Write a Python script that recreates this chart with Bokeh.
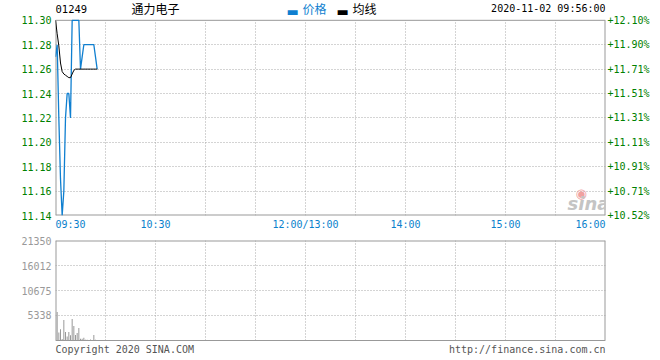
from bokeh.plotting import figure
from bokeh.models import Range1d, FixedTicker, LinearAxis, Label
from bokeh.layouts import column
from bokeh.embed import file_html
from bokeh.resources import INLINE

# ---------------- data ----------------
stock_code = "01249"
stock_name = "通力电子"
timestamp = "2020-11-02 09:56:00"
legend_price = "价格"
legend_avg = "均线"
prev_close = 10.08

# trading minutes since 09:30 (lunch break removed)
minutes = list(range(26))
price = [11.27, 11.28, 11.22, 11.17, 11.14, 11.16, 11.22, 11.24, 11.24, 11.22,
         11.30, 11.30, 11.30, 11.30, 11.30, 11.26, 11.27, 11.28, 11.28, 11.28,
         11.28, 11.28, 11.28, 11.28, 11.27, 11.26]
avg_price = [11.300, 11.289, 11.279, 11.265, 11.258, 11.256, 11.255, 11.254, 11.253, 11.253,
             11.256, 11.259, 11.260, 11.260, 11.260, 11.260, 11.260, 11.260, 11.260, 11.260,
             11.260, 11.260, 11.260, 11.260, 11.260, 11.260]

vol_minutes = list(range(1, 25))
volume = [6100, 1700, 2400, 300, 4400, 1800, 850, 1800, 1100, 4600,
          3100, 1200, 1600, 2650, 400, 400, 600, 150, 150, 0,
          200, 0, 1200, 150]

price_ticks = [11.14, 11.16, 11.18, 11.20, 11.22, 11.24, 11.26, 11.28, 11.30]
time_ticks = [0, 60, 150, 210, 270, 330]
time_labels = ["09:30", "10:30", "12:00/13:00", "14:00", "15:00", "16:00"]
grid_minutes = [30, 60, 90, 120, 150, 180, 210, 240, 270, 300]
vol_ticks = [5338, 10675, 16012, 21350]
vol_labels = ["5338", "10675", "16012", "21350"]
copyright_text = "Copyright 2020 SINA.COM"
url_text = "http://finance.sina.com.cn"

# ---------------- style ----------------
MONO = "DejaVu Sans Mono"
CJK = "Noto Sans CJK SC"
GREEN = "#008000"
BLUE = "#0f7fd0"
TBLUE = "#0a7fcc"
GRAY = "#999999"
GRID = "#a8a8a8"

X_MIN, X_MAX = 0, 330
Y_MIN, Y_MAX = 11.14, 11.30
V_MAX = 21350
PRICE_PX = 197.0     # price panel height in px
VOL_PX = 100.0       # volume panel height in px

# page geometry helpers (frame: x 55..605, price y 20..217, volume y 240..340)
def xm(px):
    return X_MIN + (px - 55) * (X_MAX - X_MIN) / 550.0

def yp(py):
    return Y_MAX - (py - 20) * (Y_MAX - Y_MIN) / PRICE_PX

def yv(py):
    return V_MAX - (py - 240) * V_MAX / VOL_PX

# ---------------- price panel (frame extended up to the page top for the header) ----------------
p1 = figure(width=658, height=232, x_range=Range1d(X_MIN, X_MAX),
            y_range=Range1d(Y_MIN, yp(0)), output_backend="svg",
            toolbar_location=None, min_border_left=55, min_border_right=53,
            min_border_top=0, min_border_bottom=15)
p1.outline_line_color = None
p1.background_fill_color = "white"
p1.border_fill_color = "white"

p1.xgrid.visible = False
p1.ygrid.ticker = FixedTicker(ticks=price_ticks[1:-1])
p1.ygrid.grid_line_color = GRID
p1.ygrid.grid_line_dash = "1 2"
p1.ygrid.grid_line_width = 1
n = len(grid_minutes)
p1.segment(x0=grid_minutes, y0=[Y_MIN] * n, x1=grid_minutes, y1=[Y_MAX] * n,
           line_color=GRID, line_dash="1 2", line_width=1)
# panel border
p1.segment(x0=[X_MIN, X_MAX], y0=[Y_MIN, Y_MIN], x1=[X_MIN, X_MAX], y1=[Y_MAX, Y_MAX],
           line_color=GRAY, line_width=2)
p1.segment(x0=[X_MIN], y0=[Y_MAX], x1=[X_MAX], y1=[Y_MAX], line_color=GRAY, line_width=1)
p1.segment(x0=[X_MIN], y0=[Y_MIN], x1=[X_MAX], y1=[Y_MIN], line_color=GRAY, line_width=2)

def style_axis(ax, color, standoff):
    ax.axis_line_color = None
    ax.major_tick_line_color = None
    ax.minor_tick_line_color = None
    ax.major_tick_out = 0
    ax.major_tick_in = 0
    ax.minor_tick_out = 0
    ax.major_label_text_font = MONO
    ax.major_label_text_font_size = "10px"
    ax.major_label_text_color = color
    ax.major_label_standoff = standoff

xa = p1.xaxis[0]
xa.ticker = FixedTicker(ticks=time_ticks)
ov = {}
for i, (t, lab) in enumerate(zip(time_ticks, time_labels)):
    if i == 0:
        lab = "\u00a0" * len(lab) + lab
    elif i == len(time_ticks) - 1:
        lab = lab + "\u00a0" * len(lab)
    ov[t] = lab
xa.major_label_overrides = ov
style_axis(xa, TBLUE, 3)

ya = p1.yaxis[0]
ya.ticker = FixedTicker(ticks=price_ticks)
ya.major_label_overrides = {v: f"{v:.2f}" for v in price_ticks}
style_axis(ya, GREEN, 4)

ra = LinearAxis(ticker=FixedTicker(ticks=price_ticks))
ra.major_label_overrides = {v: "+{:.2f}%".format((v / prev_close - 1) * 100) for v in price_ticks}
style_axis(ra, GREEN, 2)
p1.add_layout(ra, "right")

p1.line(minutes, price, line_color=BLUE, line_width=1.3)
p1.line(minutes, avg_price, line_color="black", line_width=1)

# header texts
top_y = yp(8.5)
mark_y = yp(11)
p1.add_layout(Label(x=xm(55), y=top_y, text=stock_code, text_font=MONO, text_font_size="10.5px",
                    text_color="black", text_align="left", text_baseline="middle"))
p1.add_layout(Label(x=xm(131), y=top_y, text=stock_name, text_font=CJK, text_font_size="12px",
                    text_color="black", text_align="left", text_baseline="middle"))
p1.add_layout(Label(x=xm(605), y=top_y, text=timestamp, text_font=MONO, text_font_size="10px",
                    text_color="black", text_align="right", text_baseline="middle"))
p1.add_layout(Label(x=xm(286), y=mark_y, text="\u25ac", text_font="DejaVu Sans", text_font_size="13px",
                    text_color=BLUE, text_align="left", text_baseline="middle"))
p1.add_layout(Label(x=xm(302), y=top_y, text=legend_price, text_font=CJK, text_font_size="12px",
                    text_color=BLUE, text_align="left", text_baseline="middle"))
p1.add_layout(Label(x=xm(336), y=mark_y, text="\u25ac", text_font="DejaVu Sans", text_font_size="13px",
                    text_color="black", text_align="left", text_baseline="middle"))
p1.add_layout(Label(x=xm(352), y=top_y, text=legend_avg, text_font=CJK, text_font_size="12px",
                    text_color="black", text_align="left", text_baseline="middle"))

# sina watermark
p1.add_layout(Label(x=xm(575), y=yp(195), text="\u25c9", text_font="DejaVu Sans", text_font_size="13px",
                    text_color="#f0a0a0", text_align="left", text_baseline="middle"))
p1.add_layout(Label(x=xm(567), y=yp(205), text="sina", text_font="DejaVu Sans", text_font_size="18px",
                    text_font_style="bold italic", text_color="#c4c4c4", text_align="left",
                    text_baseline="middle"))

# ---------------- volume panel (frame extended down for the footer) ----------------
p2 = figure(width=658, height=126, x_range=Range1d(X_MIN, X_MAX),
            y_range=Range1d(yv(358), V_MAX), output_backend="svg",
            toolbar_location=None, min_border_left=55, min_border_right=53,
            min_border_top=8, min_border_bottom=0)
p2.outline_line_color = None
p2.background_fill_color = "white"
p2.border_fill_color = "white"
p2.xaxis.visible = False
p2.xgrid.visible = False
p2.ygrid.ticker = FixedTicker(ticks=vol_ticks[:-1])
p2.ygrid.grid_line_color = GRID
p2.ygrid.grid_line_dash = "1 2"
p2.ygrid.grid_line_width = 1
p2.segment(x0=grid_minutes, y0=[0] * n, x1=grid_minutes, y1=[V_MAX] * n,
           line_color=GRID, line_dash="1 2", line_width=1)
p2.segment(x0=[X_MIN, X_MAX], y0=[0, 0], x1=[X_MIN, X_MAX], y1=[V_MAX, V_MAX],
           line_color=GRAY, line_width=2)
p2.segment(x0=[X_MIN], y0=[V_MAX], x1=[X_MAX], y1=[V_MAX], line_color=GRAY, line_width=2)
p2.segment(x0=[X_MIN], y0=[0], x1=[X_MAX], y1=[0], line_color=GRAY, line_width=1)

va = p2.yaxis[0]
va.ticker = FixedTicker(ticks=vol_ticks)
va.major_label_overrides = {t: s for t, s in zip(vol_ticks, vol_labels)}
style_axis(va, GRAY, 4)

p2.vbar(x=vol_minutes, top=volume, width=0.6, fill_color=GRAY, line_color=None)

bot_y = yv(349)
p2.add_layout(Label(x=xm(55), y=bot_y, text=copyright_text, text_font=MONO, text_font_size="10px",
                    text_color="#555555", text_align="left", text_baseline="middle"))
p2.add_layout(Label(x=xm(605), y=bot_y, text=url_text, text_font=MONO, text_font_size="10px",
                    text_color="#555555", text_align="right", text_baseline="middle"))

layout = column(p1, p2)
open("out.html", "w").write(file_html(layout, INLINE))
